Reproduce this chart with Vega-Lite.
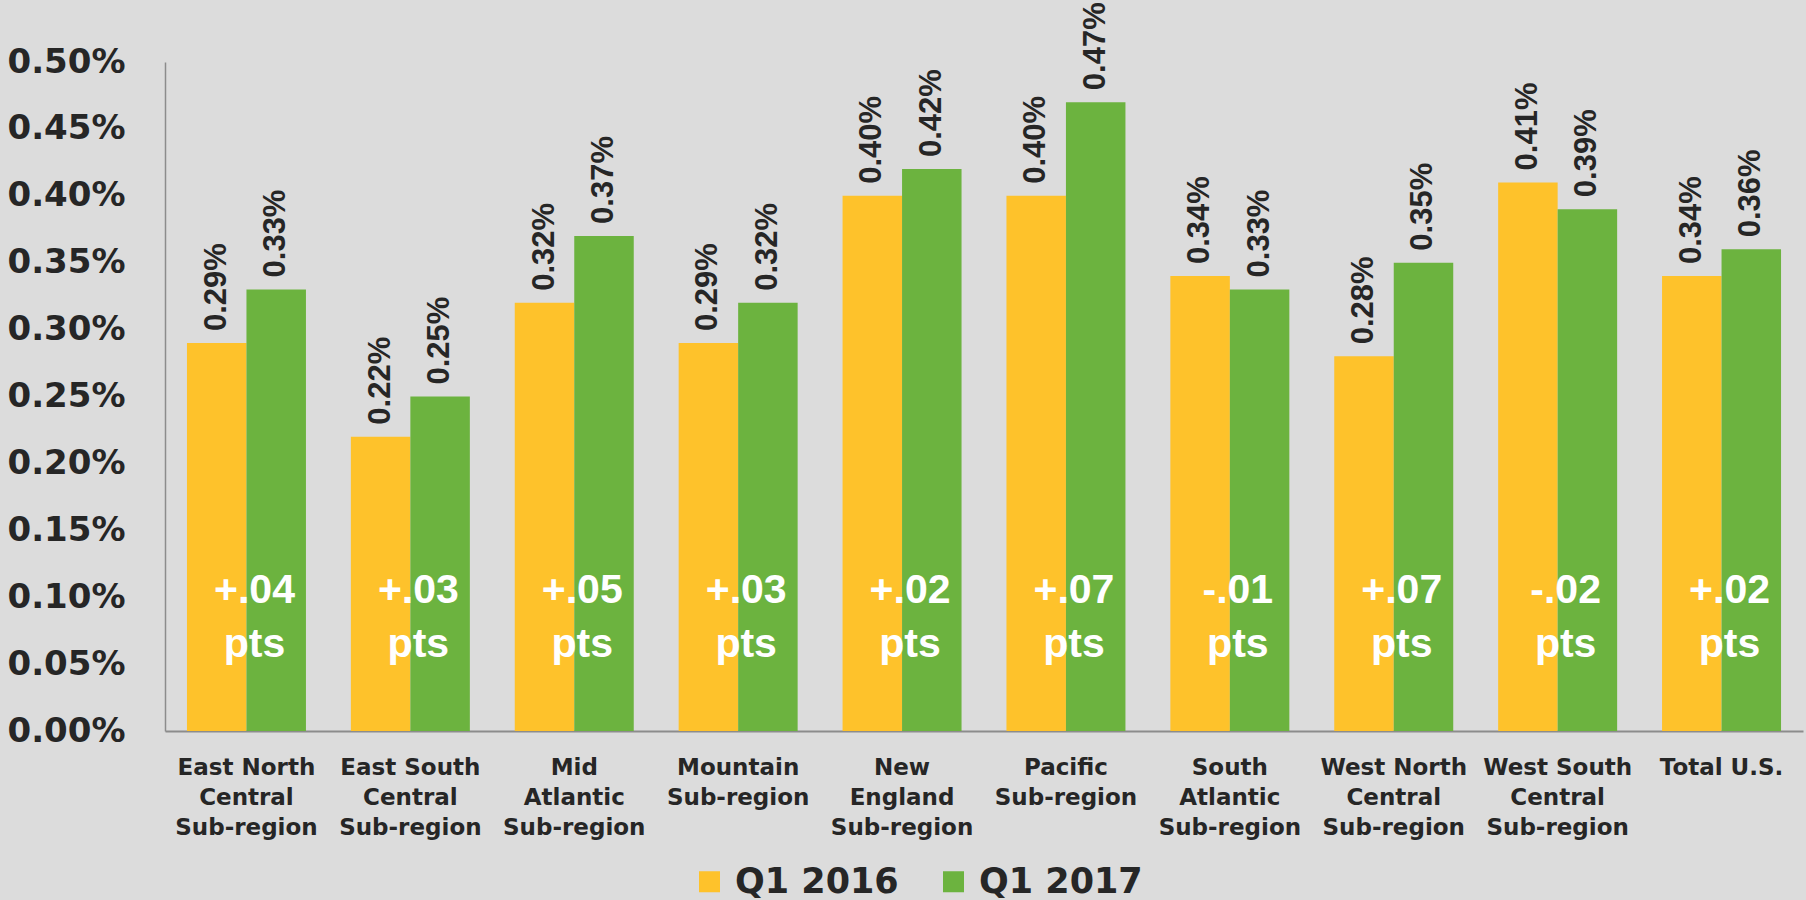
{
  "$schema": "https://vega.github.io/schema/vega-lite/v6.json",
  "autosize": "none",
  "width": 1638,
  "height": 669,
  "padding": {"left": 165, "top": 62, "right": 3, "bottom": 169},
  "background": "#DCDCDC",
  "datasets": {
    "bars": [
      {"region": "East North|Central|Sub-region", "period": "Q1 2016", "rate": 0.0029},
      {"region": "East North|Central|Sub-region", "period": "Q1 2017", "rate": 0.0033},
      {"region": "East South|Central|Sub-region", "period": "Q1 2016", "rate": 0.0022},
      {"region": "East South|Central|Sub-region", "period": "Q1 2017", "rate": 0.0025},
      {"region": "Mid|Atlantic|Sub-region", "period": "Q1 2016", "rate": 0.0032},
      {"region": "Mid|Atlantic|Sub-region", "period": "Q1 2017", "rate": 0.0037},
      {"region": "Mountain|Sub-region", "period": "Q1 2016", "rate": 0.0029},
      {"region": "Mountain|Sub-region", "period": "Q1 2017", "rate": 0.0032},
      {"region": "New|England|Sub-region", "period": "Q1 2016", "rate": 0.0040},
      {"region": "New|England|Sub-region", "period": "Q1 2017", "rate": 0.0042},
      {"region": "Pacific|Sub-region", "period": "Q1 2016", "rate": 0.0040},
      {"region": "Pacific|Sub-region", "period": "Q1 2017", "rate": 0.0047},
      {"region": "South|Atlantic|Sub-region", "period": "Q1 2016", "rate": 0.0034},
      {"region": "South|Atlantic|Sub-region", "period": "Q1 2017", "rate": 0.0033},
      {"region": "West North|Central|Sub-region", "period": "Q1 2016", "rate": 0.0028},
      {"region": "West North|Central|Sub-region", "period": "Q1 2017", "rate": 0.0035},
      {"region": "West South|Central|Sub-region", "period": "Q1 2016", "rate": 0.0041},
      {"region": "West South|Central|Sub-region", "period": "Q1 2017", "rate": 0.0039},
      {"region": "Total U.S.", "period": "Q1 2016", "rate": 0.0034},
      {"region": "Total U.S.", "period": "Q1 2017", "rate": 0.0036}
    ],
    "changes": [
      {"region": "East North|Central|Sub-region", "change": "+.04"},
      {"region": "East South|Central|Sub-region", "change": "+.03"},
      {"region": "Mid|Atlantic|Sub-region", "change": "+.05"},
      {"region": "Mountain|Sub-region", "change": "+.03"},
      {"region": "New|England|Sub-region", "change": "+.02"},
      {"region": "Pacific|Sub-region", "change": "+.07"},
      {"region": "South|Atlantic|Sub-region", "change": "-.01"},
      {"region": "West North|Central|Sub-region", "change": "+.07"},
      {"region": "West South|Central|Sub-region", "change": "-.02"},
      {"region": "Total U.S.", "change": "+.02"}
    ]
  },
  "encoding": {
    "x": {
      "field": "region",
      "type": "nominal",
      "sort": null,
      "scale": {"paddingInner": 0.274, "paddingOuter": 0.134},
      "axis": {
        "title": null,
        "labelAngle": 0,
        "labelExpr": "split(datum.label, '|')",
        "labelFont": "DejaVu Sans",
        "labelFontWeight": "bold",
        "labelFontSize": 23,
        "labelLineHeight": 30,
        "labelColor": "#262626",
        "labelPadding": 25,
        "labelBaseline": "top",
        "labelLimit": 300,
        "ticks": false,
        "domainColor": "#8C8C8C",
        "domainWidth": 2,
        "grid": false
      }
    }
  },
  "layer": [
    {
      "data": {"name": "bars"},
      "mark": {"type": "bar"},
      "encoding": {
        "xOffset": {"field": "period", "type": "nominal", "sort": ["Q1 2016", "Q1 2017"]},
        "y": {
          "field": "rate",
          "type": "quantitative",
          "scale": {"domain": [0, 0.005], "nice": false},
          "axis": {
            "title": null,
            "values": [0, 0.0005, 0.001, 0.0015, 0.002, 0.0025, 0.003, 0.0035, 0.004, 0.0045, 0.005],
            "format": ".2%",
            "labelFont": "DejaVu Sans",
            "labelFontWeight": "bold",
            "labelFontSize": 34,
            "labelColor": "#262626",
            "labelPadding": 40,
            "ticks": false,
            "grid": false,
            "domainColor": "#8C8C8C",
            "domainWidth": 1.5
          }
        },
        "color": {
          "field": "period",
          "type": "nominal",
          "scale": {"domain": ["Q1 2016", "Q1 2017"], "range": ["#FEC22B", "#6CB33F"]},
          "legend": {
            "title": null,
            "orient": "none",
            "direction": "horizontal",
            "legendX": 527,
            "legendY": 802,
            "symbolType": "square",
            "symbolSize": 441,
            "symbolStrokeWidth": 0,
            "labelFont": "DejaVu Sans",
            "labelFontWeight": "bold",
            "labelFontSize": 35,
            "labelLimit": 400,
            "labelColor": "#262626",
            "labelOffset": 8,
            "columnPadding": 37,
            "padding": 0
          }
        }
      }
    },
    {
      "data": {"name": "bars"},
      "mark": {
        "type": "text",
        "angle": 270,
        "align": "left",
        "baseline": "middle",
        "dx": 12,
        "font": "Liberation Sans",
        "fontWeight": "bold",
        "fontSize": 31,
        "color": "#262626"
      },
      "encoding": {
        "xOffset": {"field": "period", "type": "nominal", "sort": ["Q1 2016", "Q1 2017"]},
        "y": {"field": "rate", "type": "quantitative"},
        "text": {"field": "rate", "type": "quantitative", "format": ".2%"}
      }
    },
    {
      "data": {"name": "changes"},
      "mark": {
        "type": "text",
        "align": "center",
        "baseline": "alphabetic",
        "dx": 8,
        "font": "Liberation Sans",
        "fontWeight": "bold",
        "fontSize": 41,
        "color": "#FFFFFF"
      },
      "encoding": {
        "y": {"datum": 0.00096, "type": "quantitative"},
        "text": {"field": "change", "type": "nominal"}
      }
    },
    {
      "data": {"name": "changes"},
      "mark": {
        "type": "text",
        "align": "center",
        "baseline": "alphabetic",
        "dx": 8,
        "font": "Liberation Sans",
        "fontWeight": "bold",
        "fontSize": 41,
        "color": "#FFFFFF"
      },
      "encoding": {
        "y": {"datum": 0.00055, "type": "quantitative"},
        "text": {"value": "pts"}
      }
    }
  ],
  "config": {
    "view": {"stroke": null},
    "axis": {"domainCap": "butt"}
  }
}
